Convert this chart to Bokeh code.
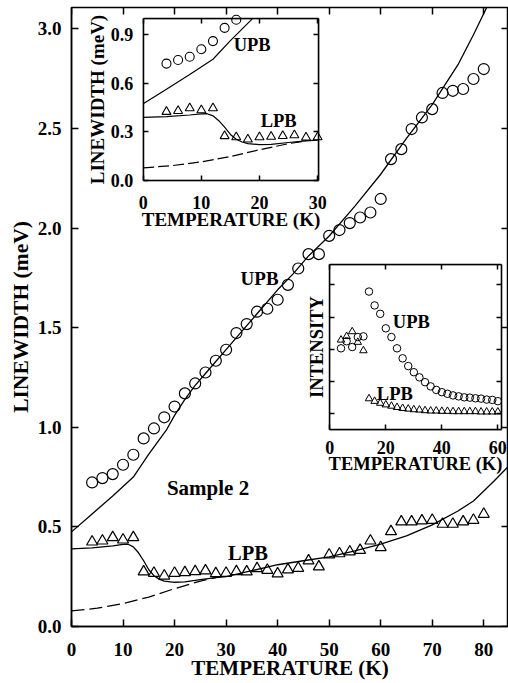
import numpy as np
from bokeh.plotting import figure
from bokeh.models import (Range1d, LinearAxis, FixedTicker, BoxAnnotation, Label,
                          PrintfTickFormatter)
from bokeh.embed import file_html
from bokeh.resources import INLINE

# ---------------- data ----------------
temperature = [4, 6, 8, 10, 12, 14, 16, 18, 20, 22, 24, 26, 28, 30, 32, 34, 36, 38, 40,
               42, 44, 46, 48, 50, 52, 54, 56, 58, 60, 62, 64, 66, 68, 70, 72, 74, 76, 78, 80]
upb_linewidth = [0.723, 0.745, 0.765, 0.812, 0.862, 0.944, 0.994, 1.05, 1.104,
                 1.17, 1.22, 1.275, 1.334, 1.389, 1.473, 1.518, 1.58, 1.595, 1.64,
                 1.715, 1.797, 1.869, 1.869, 1.961, 1.99, 2.025, 2.053, 2.078, 2.146,
                 2.346, 2.396, 2.497, 2.555, 2.597, 2.678, 2.689, 2.698, 2.748, 2.798]
lpb_linewidth = [0.425, 0.43, 0.447, 0.435, 0.447, 0.275, 0.268, 0.254, 0.268,
                 0.271, 0.276, 0.28, 0.266, 0.268, 0.276, 0.275, 0.291, 0.283, 0.265,
                 0.285, 0.293, 0.33, 0.30, 0.36, 0.366, 0.375, 0.383, 0.43, 0.397,
                 0.477, 0.526, 0.526, 0.531, 0.534, 0.514, 0.514, 0.526, 0.534, 0.564]

upb_fit_t = [0, 4, 8, 12, 15, 18.5, 20, 22, 24, 26, 28, 30, 33, 36, 40, 43, 46, 50,
             55, 60, 65, 70, 75, 78, 81]
upb_fit_w = [0.475, 0.565, 0.655, 0.75, 0.865, 0.99, 1.06, 1.14, 1.21, 1.27, 1.33, 1.39,
             1.48, 1.57, 1.69, 1.77, 1.86, 1.96, 2.11, 2.27, 2.45, 2.62, 2.82, 2.97, 3.13]
lpb_fit_t = [0, 4, 8, 10, 11, 12, 13, 14, 15, 16, 17, 18, 20, 22, 25, 28, 30, 35, 40,
             45, 50, 55, 60, 65, 70, 75, 78, 82, 85]
lpb_fit_w = [0.39, 0.395, 0.405, 0.412, 0.413, 0.40, 0.37, 0.33, 0.285, 0.255, 0.238,
             0.228, 0.222, 0.224, 0.235, 0.245, 0.25, 0.28, 0.31, 0.33, 0.35, 0.38,
             0.414, 0.455, 0.51, 0.58, 0.63, 0.73, 0.81]
phonon_t = [0, 5, 10, 15, 20, 25, 28]
phonon_w = [0.078, 0.092, 0.115, 0.148, 0.19, 0.228, 0.245]

x_ticks = [0, 10, 20, 30, 40, 50, 60, 70, 80]
y_ticks = [0.0, 0.5, 1.0, 1.5, 2.0, 2.5, 3.0]
inset1_x_ticks = [0, 10, 20, 30]
inset1_y_ticks = [0.0, 0.3, 0.6, 0.9]

# intensity inset
int_t_low = [4, 6, 8, 10, 12]
int_upb_low = [3.03, 3.25, 3.07, 3.38, 3.40]
int_lpb_low_t = [4, 6, 8, 10, 12]
int_lpb_low = [3.29, 3.40, 3.55, 3.22, 2.96]
int_t = [14, 16, 18, 20, 22, 24, 26, 28, 30, 32, 34, 36, 38, 40, 42, 44, 46, 48, 50,
         52, 54, 56, 58, 60]
int_upb = [4.79, 4.36, 4.10, 3.65, 3.38, 3.03, 2.72, 2.48, 2.29, 2.13, 1.98, 1.85, 1.74,
           1.67, 1.62, 1.57, 1.54, 1.51, 1.50, 1.48, 1.47, 1.44, 1.43, 1.39]
int_lpb = [1.47, 1.39, 1.33, 1.28, 1.24, 1.20, 1.17, 1.15, 1.13, 1.12, 1.10, 1.09, 1.09,
           1.08, 1.08, 1.07, 1.07, 1.07, 1.07, 1.07, 1.06, 1.06, 1.06, 1.06]
inset2_x_ticks = [0, 20, 40, 60]
inset2_y_ticks = [1, 2, 3, 4, 5]

# ---------------- layout ----------------
FONT = "Liberation Serif"
W, H = 508, 683
FL, FR, FT, FB = 71, 508, 7, 626          # main frame (pixels)
X_RANGE = (0, 84.8)
Y_RANGE = (0, 3.107)

# insets: data window and its pixel box (left, right, top, bottom)
I1_X, I1_Y = (0, 30.2), (0, 1.0)
I1_BOX = (142.7, 318.3, 18.3, 180.0)
I2_X, I2_Y = (0, 61.3), (0.5, 5.62)
I2_BOX = (329.3, 501.0, 264.3, 429.4)


def embed_range(lo, hi, p_lo, p_hi, f_lo, f_hi):
    k = (hi - lo) / (p_hi - p_lo)
    return Range1d(lo + (f_lo - p_lo) * k, lo + (f_hi - p_lo) * k)


p = figure(width=W, height=H, x_range=Range1d(*X_RANGE), y_range=Range1d(*Y_RANGE),
           output_backend="svg", toolbar_location=None,
           min_border_left=FL, min_border_right=0, min_border_top=FT,
           min_border_bottom=H - FB)
p.xgrid.visible = False
p.ygrid.visible = False
p.outline_line_color = "black"
p.outline_line_width = 1.5
p.background_fill_color = "white"
p.border_fill_color = "white"

for name, (xr, yr, box) in {"i1": (I1_X, I1_Y, I1_BOX), "i2": (I2_X, I2_Y, I2_BOX)}.items():
    l, r, t, b = box
    p.extra_x_ranges[name + "x"] = embed_range(xr[0], xr[1], l, r, FL, FR)
    p.extra_y_ranges[name + "y"] = embed_range(yr[0], yr[1], b, t, FB, FT)


def style_axis(ax, size, labels=True, tick_len=7, lw=1.5):
    ax.major_tick_in = tick_len
    ax.major_tick_out = 0
    ax.minor_tick_in = 0
    ax.minor_tick_out = 0
    ax.major_tick_line_width = lw
    ax.major_tick_line_color = "black"
    ax.axis_line_width = lw
    ax.axis_line_color = "black"
    ax.major_label_text_font = FONT
    ax.major_label_text_font_style = "bold"
    if labels:
        ax.major_label_text_color = "black"
        ax.major_label_text_font_size = f"{size}px"
    else:
        ax.major_label_text_color = None
        ax.major_label_text_font_size = "1px"
        ax.major_label_standoff = 0
    ax.axis_label_text_font = FONT
    ax.axis_label_text_font_style = "bold"
    ax.axis_label_text_color = "black"


# main axes
xa = p.xaxis[0]
xa.ticker = FixedTicker(ticks=x_ticks)
style_axis(xa, 19)
xa.major_label_standoff = 16
xa.axis_label = "TEMPERATURE (K)"
xa.axis_label_text_font_size = "21px"
xa.axis_label_standoff = -3

ya = p.yaxis[0]
ya.ticker = FixedTicker(ticks=y_ticks)
ya.formatter = PrintfTickFormatter(format="%.1f")
style_axis(ya, 19)
ya.major_label_standoff = 10
ya.axis_label = "LINEWIDTH (meV)"
ya.axis_label_text_font_size = "21.5px"
ya.axis_label_standoff = 2

# tick-only top / right edges of the main frame
top = LinearAxis(ticker=FixedTicker(ticks=x_ticks), fixed_location=Y_RANGE[1])
style_axis(top, 0, labels=False)
top.axis_line_color = None
p.add_layout(top, "above")
right = LinearAxis(ticker=FixedTicker(ticks=y_ticks), fixed_location=X_RANGE[1])
style_axis(right, 0, labels=False)
right.axis_line_color = None
p.add_layout(right, "right")

# main data
p.line(upb_fit_t, upb_fit_w, line_color="black", line_width=1.3)
p.line(lpb_fit_t, lpb_fit_w, line_color="black", line_width=1.3)
p.line(phonon_t, phonon_w, line_color="black", line_width=1.3, line_dash="13 5")
p.scatter(temperature, upb_linewidth, marker="circle", size=11, fill_color=None,
          line_color="black", line_width=1.2)
p.scatter(temperature, lpb_linewidth, marker="triangle", size=11, fill_color=None,
          line_color="black", line_width=1.2)


def add_label(text, x, y, size, xr="default", yr="default"):
    kw = {}
    if xr != "default":
        kw = dict(x_range_name=xr, y_range_name=yr)
    p.add_layout(Label(x=x, y=y, text=text, text_font=FONT, text_font_style="bold",
                       text_font_size=f"{size}px", text_align="center",
                       text_baseline="middle", text_color="black", **kw))


add_label("UPB", 36.5, 1.745, 19)
add_label("LPB", 34.25, 0.37, 20.5)
add_label("Sample 2", 26.5, 0.695, 21)


def inset_frame(name, xr, yr, xticks, yticks, ylabels, xlabel, ylabel, xlab_size,
                ylab_size, x_standoff, xl_standoff, y_standoff, yl_standoff, fmt=None):
    xn, yn = name + "x", name + "y"
    p.add_layout(BoxAnnotation(left=xr[0], right=xr[1], bottom=yr[0], top=yr[1],
                               x_range_name=xn, y_range_name=yn, fill_color="white",
                               fill_alpha=1.0, line_color="black", line_width=1.5,
                               level="underlay"))
    b = LinearAxis(x_range_name=xn, y_range_name=yn, fixed_location=yr[0], bounds=xr,
                   ticker=FixedTicker(ticks=xticks))
    style_axis(b, 18, tick_len=5)
    b.major_label_standoff = x_standoff
    b.axis_label = xlabel
    b.axis_label_text_font_size = f"{xlab_size}px"
    b.axis_label_standoff = xl_standoff
    p.add_layout(b, "below")
    t = LinearAxis(x_range_name=xn, y_range_name=yn, fixed_location=yr[1], bounds=xr,
                   ticker=FixedTicker(ticks=xticks))
    style_axis(t, 0, labels=False, tick_len=5)
    p.add_layout(t, "above")
    lft = LinearAxis(x_range_name=xn, y_range_name=yn, fixed_location=xr[0], bounds=yr,
                     ticker=FixedTicker(ticks=yticks))
    style_axis(lft, 18, labels=ylabels, tick_len=5)
    if fmt:
        lft.formatter = PrintfTickFormatter(format=fmt)
    if ylabels:
        lft.major_label_standoff = y_standoff
    lft.axis_label = ylabel
    lft.axis_label_text_font_size = f"{ylab_size}px"
    lft.axis_label_standoff = yl_standoff
    p.add_layout(lft, "left")
    rgt = LinearAxis(x_range_name=xn, y_range_name=yn, fixed_location=xr[1], bounds=yr,
                     ticker=FixedTicker(ticks=yticks))
    style_axis(rgt, 0, labels=False, tick_len=5)
    p.add_layout(rgt, "right")


def clip_polyline(xs, ys, xmax, ymax):
    ox, oy = [], []
    for i in range(len(xs)):
        if xs[i] <= xmax and ys[i] <= ymax:
            ox.append(xs[i]); oy.append(ys[i])
        else:
            if i > 0:
                x0, y0 = xs[i - 1], ys[i - 1]
                fx = (xmax - x0) / (xs[i] - x0) if xs[i] > xmax else 1.0
                fy = (ymax - y0) / (ys[i] - y0) if ys[i] > ymax else 1.0
                f = min(fx, fy)
                ox.append(x0 + f * (xs[i] - x0)); oy.append(y0 + f * (ys[i] - y0))
            break
    return ox, oy


# ---- inset 1 : linewidth at low temperature ----
inset_frame("i1", I1_X, I1_Y, inset1_x_ticks, inset1_y_ticks, True,
            "TEMPERATURE (K)", "LINEWIDTH (meV)", 19, 19, 15, -3, 10, 0, fmt="%.1f")
tt = np.array(temperature, dtype=float)
uu = np.array(upb_linewidth)
ll = np.array(lpb_linewidth)
mu = (tt <= I1_X[1]) & (uu <= I1_Y[1])
ml = (tt <= I1_X[1]) & (ll <= I1_Y[1])
for xs, ys, dash in ((upb_fit_t, upb_fit_w, "solid"), (lpb_fit_t, lpb_fit_w, "solid"),
                     (phonon_t, phonon_w, "11 4")):
    cx, cy = clip_polyline(xs, ys, I1_X[1], I1_Y[1])
    p.line(cx, cy, x_range_name="i1x", y_range_name="i1y", line_color="black",
           line_width=1.2, line_dash=dash)
p.scatter(tt[mu], uu[mu], marker="circle", size=9, fill_color=None, line_color="black",
          line_width=1.1, x_range_name="i1x", y_range_name="i1y")
p.scatter(tt[ml], ll[ml], marker="triangle", size=9, fill_color=None, line_color="black",
          line_width=1.1, x_range_name="i1x", y_range_name="i1y")
add_label("UPB", 18.74, 0.835, 18.5, "i1x", "i1y")
add_label("LPB", 23.3, 0.371, 18.5, "i1x", "i1y")

# ---- inset 2 : intensity ----
inset_frame("i2", I2_X, I2_Y, inset2_x_ticks, inset2_y_ticks, False,
            "TEMPERATURE (K)", "INTENSITY", 18.5, 18.5, 11, -3, 0, 3)
for xs, ys, mk in ((int_t_low, int_upb_low, "circle"), (int_t, int_upb, "circle"),
                   (int_lpb_low_t, int_lpb_low, "triangle"), (int_t, int_lpb, "triangle")):
    p.scatter(xs, ys, marker=mk, size=7.5, fill_color=None, line_color="black",
              line_width=1.0, x_range_name="i2x", y_range_name="i2y")
add_label("UPB", 29.1, 3.86, 18.5, "i2x", "i2y")
add_label("LPB", 23.2, 1.62, 18.5, "i2x", "i2y")

open("out.html", "w").write(file_html(p, INLINE))
